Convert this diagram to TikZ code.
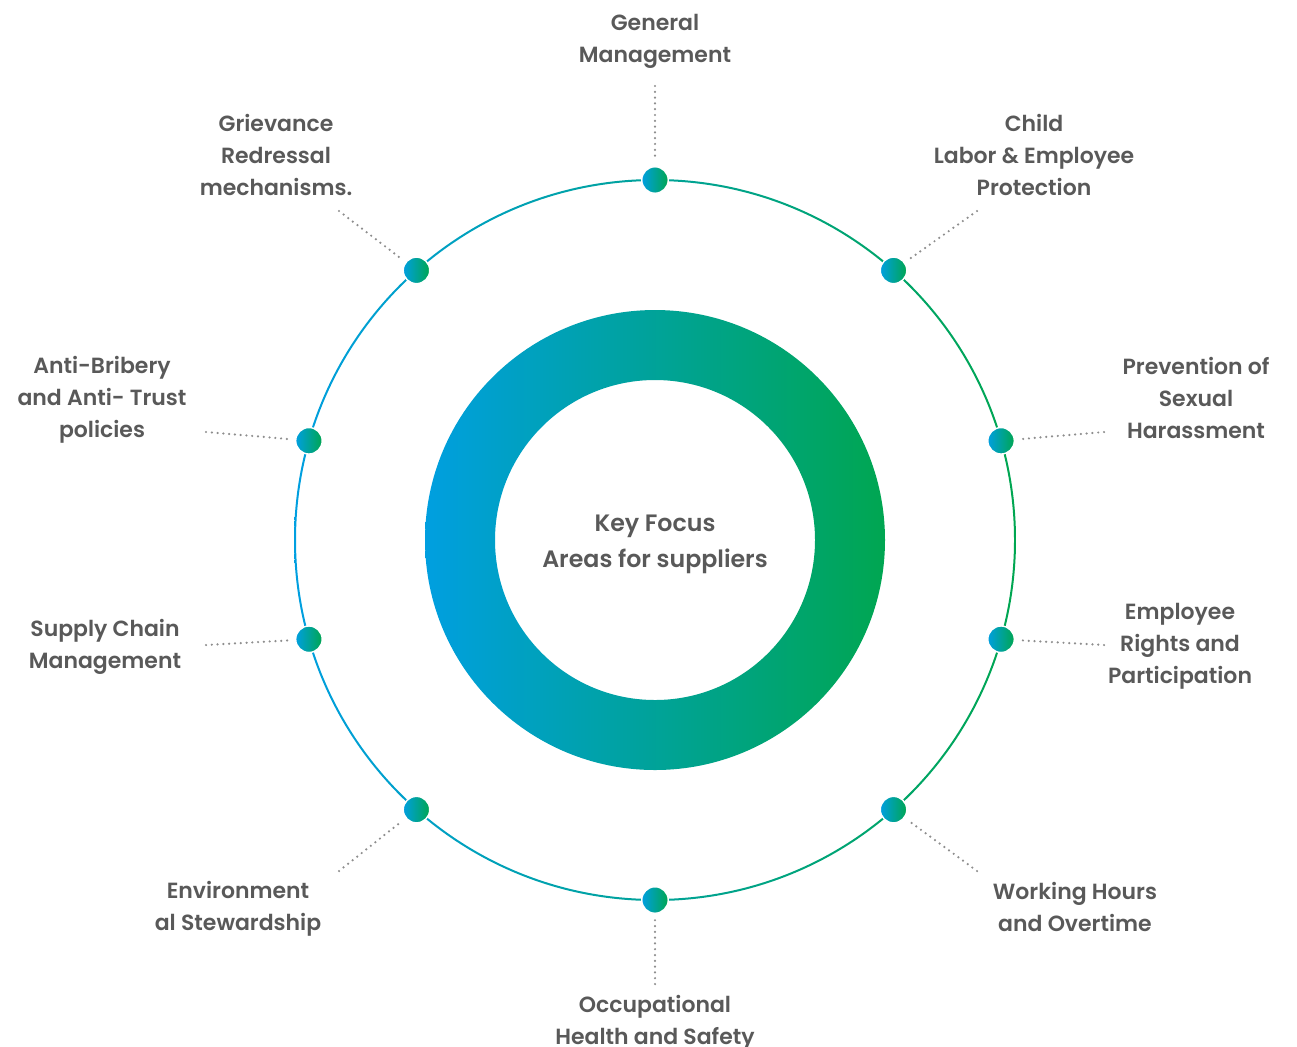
\documentclass[tikz,border=0pt]{standalone}
\usepackage{fontspec}
\setmainfont{Poppins}[BoldFont={Poppins SemiBold}]
\usepackage{tikz}
\usetikzlibrary{positioning,calc}
\definecolor{ringblue}{HTML}{009FE0}
\definecolor{ringgreen}{HTML}{00A651}
\definecolor{txtgray}{HTML}{595959}
\definecolor{leadgray}{HTML}{8E8E8E}
\tikzset{
  focus/.style ={align=center,font=\bfseries\fontsize{12.5}{18.2}\selectfont,text=txtgray},
  hub/.style   ={align=center,font=\bfseries\fontsize{13.5}{20.5}\selectfont,text=txtgray},
  pin/.style   ={circle,minimum size=0.53cm,inner sep=0pt,left color=ringblue,right color=ringgreen,draw=white,line width=0.8pt},
  lead/.style  ={leadgray,line width=1.4pt,line cap=round,dash pattern=on 0pt off 3.3pt,shorten >=3pt},
}

\begin{document}
\begin{tikzpicture}[x=0.02cm,y=-0.02cm]
  \useasboundingbox (0,0) rectangle (1297,1046);
  \coordinate (c) at (655,540);
  % rings
  \path[left color=ringblue,right color=ringgreen,even odd rule] (c) circle (230) (c) circle (160);
  \path[left color=ringblue,right color=ringgreen,even odd rule] (c) circle (361) (c) circle (359);
  \node[hub] (key) at (655,544) {Key Focus\\Areas for suppliers};
  % pins on the outer ring (y runs downwards, so angles are negated)
  \node[pin] (p1)  at ($(c)+(-90:360)$) {};
  \node[pin] (p2)  at ($(c)+(-48.5:360)$) {};
  \node[pin] (p3)  at ($(c)+(-16:360)$) {};
  \node[pin] (p4)  at ($(c)+(16:360)$) {};
  \node[pin] (p5)  at ($(c)+(48.5:360)$) {};
  \node[pin] (p6)  at ($(c)+(90:360)$) {};
  \node[pin] (p7)  at ($(c)+(131.5:360)$) {};
  \node[pin] (p8)  at ($(c)+(164:360)$) {};
  \node[pin] (p9)  at ($(c)+(-164:360)$) {};
  \node[pin] (p10) at ($(c)+(-131.5:360)$) {};
  % labels
  \node[focus] (gm)  at (655,41)   {General\\Management};
  \node[focus] (cl)  at (1034,155) {Child\\Labor \& Employee\\Protection};
  \node[focus] (sh)  at (1196,398) {Prevention of\\Sexual\\Harassment};
  \node[focus] (er)  at (1180,646) {Employee\\Rights and\\Participation};
  \node[focus] (wh)  at (1075,907) {Working Hours\\and Overtime};
  \node[focus] (oh)  at (655,1023) {Occupational\\Health and Safety};
  \node[focus] (es)  at (238,909)  {Environment\\al Stewardship};
  \node[focus] (sc)  at (105,647)  {Supply Chain\\Management};
  \node[focus] (ab)  at (102,400)  {Anti-Bribery\\and Anti- Trust\\policies};
  \node[focus] (gr)  at (276,155)  {Grievance\\Redressal\\mechanisms.};
  % leader ends
  \coordinate (gm-l) at (655,86);
  \coordinate (cl-l) at (977,211);
  \coordinate (sh-l) at (1104,432);
  \coordinate (er-l) at (1104,645);
  \coordinate (wh-l) at (977,871);
  \coordinate (oh-l) at (655,984);
  \coordinate (es-l) at (339,871);
  \coordinate (sc-l) at (206,645);
  \coordinate (ab-l) at (206,432);
  \coordinate (gr-l) at (339,211);
  \draw[lead] (gm-l) -- (p1);
  \draw[lead] (cl-l) -- (p2);
  \draw[lead] (sh-l) -- (p3);
  \draw[lead] (er-l) -- (p4);
  \draw[lead] (wh-l) -- (p5);
  \draw[lead] (oh-l) -- (p6);
  \draw[lead] (es-l) -- (p7);
  \draw[lead] (sc-l) -- (p8);
  \draw[lead] (ab-l) -- (p9);
  \draw[lead] (gr-l) -- (p10);
\end{tikzpicture}
\end{document}
